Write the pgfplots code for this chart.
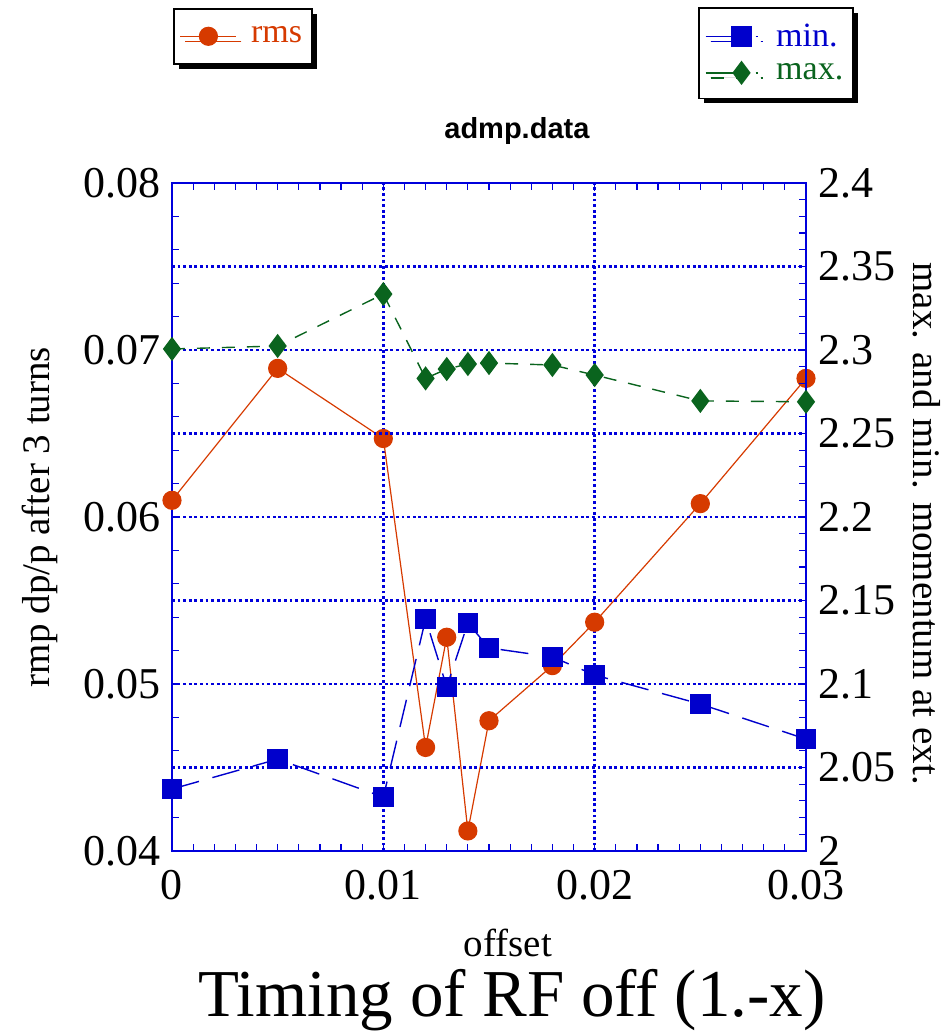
\documentclass[border=0pt]{standalone}
\usepackage{fontspec}
\setmainfont{Liberation Serif}
\newfontfamily\sansb{Liberation Sans}
\usepackage{pgfplots}
\usepackage{pgfplotstable}
\pgfplotsset{compat=1.18}
\usetikzlibrary{shadows}

\definecolor{rmscol}{RGB}{214,58,0}
\definecolor{mincol}{RGB}{0,0,204}
\definecolor{maxcol}{RGB}{10,100,30}
\definecolor{gridcol}{RGB}{0,0,220}

% rms on the left axis
\pgfplotstableread{
x      rms
0      0.0610
0.005  0.0689
0.010  0.0647
0.012  0.0462
0.013  0.0528
0.014  0.0412
0.015  0.0478
0.018  0.0511
0.020  0.0537
0.025  0.0608
0.030  0.0683
}\rmsdata

% min. and max. momentum on the right axis
\pgfplotstableread{
x      mn      mx
0      2.0371  2.3006
0.005  2.0550  2.3024
0.010  2.0323  2.3335
0.012  2.1389  2.2830
0.013  2.0982  2.2886
0.014  2.1365  2.2916
0.015  2.1216  2.2922
0.018  2.1162  2.2910
0.020  2.1054  2.2850
0.025  2.0880  2.2695
0.030  2.0670  2.2690
}\mmdata

\pgfplotsset{
  common/.style={
    width=317pt, height=334pt, scale only axis,
    at={(86pt,91.5pt)}, anchor=south west,
    xmin=0, xmax=0.03, clip=false,
    scaled x ticks=false, scaled y ticks=false,
    tick align=inside,
    ticklabel style={font=\fontsize{22}{22}\selectfont},
    major tick length=4pt, minor tick length=3.5pt,
    every tick/.style={gridcol, line width=0.6pt},
    grid style={gridcol, line width=1.3pt, dash pattern=on 1.4pt off 1.4pt},
    axis line style={gridcol, line width=1.2pt},
  },
  boxleg/.style={
    draw=black, fill=white, thick,
    font=\fontsize{17}{17}\selectfont,
    drop shadow={shadow xshift=2.5pt, shadow yshift=-2.5pt, fill=black, opacity=1},
    legend cell align=left, inner xsep=3pt, inner ysep=6pt, row sep=3pt,
  },
}

\begin{document}
\begin{tikzpicture}
\path[use as bounding box] (0,0) rectangle (471pt,517pt);

\begin{axis}[common,
  ymin=0.04, ymax=0.08,
  xtick={0,0.01,0.02,0.03}, xticklabels={0,0.01,0.02,0.03},
  minor x tick num=9, xtick pos=both,
  ytick={0.04,0.05,0.06,0.07,0.08}, yticklabels={0.04,0.05,0.06,0.07,0.08},
  minor y tick num=4, ytick pos=left,
  xmajorgrids,
  xticklabel style={yshift=-6pt},
  yticklabel style={xshift=-2pt},
  xlabel={offset},
  xlabel style={font=\fontsize{19.5}{20}\selectfont, at={(axis description cs:0.53,-0.1377)}, anchor=center},
  ylabel={rmp dp/p after 3 turns},
  ylabel style={font=\fontsize{19.5}{20}\selectfont, at={(axis description cs:-0.208,0.5)}, anchor=center},
  title={admp.data},
  title style={font=\sansb\bfseries\fontsize{14.5}{15}\selectfont, at={(axis description cs:0.544,1.06)}, anchor=center},
  legend style={boxleg, inner ysep=7pt, at={(axis description cs:0.0016,1.262)}, anchor=north west},
  legend image code/.code={\draw[line width=0.6pt] (0pt,0pt) -- (28pt,0pt); \draw plot coordinates {(14pt,0pt)};},
]
\addplot[rmscol, line width=0.6pt, mark=*, mark size=4.5pt, mark options={solid}] table[x=x,y=rms]{\rmsdata};
\addlegendentry{\hspace{5pt}\textcolor{rmscol}{rms}}
\end{axis}

\begin{axis}[common,
  ymin=2, ymax=2.4,
  axis x line=none, axis y line*=right,
  ytick={2,2.05,2.1,2.15,2.2,2.25,2.3,2.35,2.4},
  yticklabels={2,2.05,2.1,2.15,2.2,2.25,2.3,2.35,2.4},
  minor y tick num=4,
  ymajorgrids,
  yticklabel style={xshift=2.5pt},
  ylabel={max. and min. momentum at ext.},
  ylabel style={font=\fontsize{19.5}{20}\selectfont, at={(axis description cs:1.19,0.49)}, anchor=center, rotate=180},
  legend style={boxleg, at={(axis description cs:0.8297,1.2635)}, anchor=north west},
  legend image code/.code={\draw[solid, line width=0.7pt] (0pt,0pt) -- (14pt,0pt); \draw[solid, line width=0.7pt] (25pt,0pt) -- (26pt,0pt); \draw plot coordinates {(18pt,0pt)};},
]
\addplot[mincol, line width=0.7pt, dash pattern=on 14pt off 7pt, mark=square*, mark size=4.75pt, mark options={solid}] table[x=x,y=mn]{\mmdata};
\addlegendentry{\hspace{7pt}\textcolor{mincol}{min.}}
\addplot[maxcol, line width=0.7pt, dash pattern=on 6.5pt off 6pt, mark=diamond*, mark size=5.5pt, mark options={solid}] table[x=x,y=mx]{\mmdata};
\addlegendentry{\hspace{7pt}\textcolor{maxcol}{max.}}
\end{axis}

\node[font=\fontsize{33.5}{34}\selectfont] at (256pt,17pt) {Timing of RF off (1.-x)};
\end{tikzpicture}
\end{document}
